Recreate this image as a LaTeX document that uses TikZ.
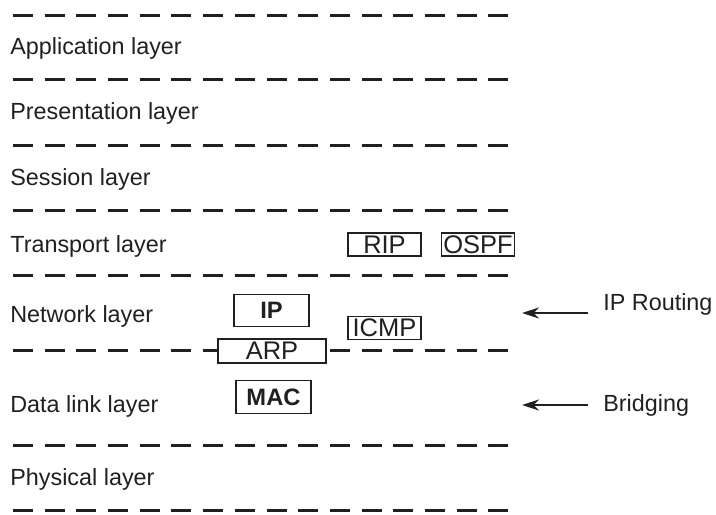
\documentclass[tikz,border=0pt]{standalone}
\usepackage{fontspec}
\setmainfont{Liberation Sans}
\usepackage{tikz}
\usetikzlibrary{arrows.meta}
\definecolor{inkgray}{HTML}{231F20}

\begin{document}
\begin{tikzpicture}[
    x=0.02cm, y=-0.02cm,
    layer/.style={anchor=west, inner sep=0pt, text=inkgray, font=\fontsize{13.3}{15}\selectfont},
    divider/.style={draw=inkgray, line width=0.06cm, dash pattern=on 0.4cm off 0.234cm},
    proto/.style={rectangle, draw=inkgray, line width=0.6pt, fill=white, text=inkgray, inner sep=0pt, minimum width=1.46cm, minimum height=0.46cm, font=\fontsize{14.5}{16}\selectfont},
    core/.style={proto, minimum width=1.5cm, minimum height=0.65cm, font=\fontsize{13.5}{15}\selectfont\bfseries},
    arrow/.style={draw=inkgray, -{Stealth[length=3.4mm, width=2.2mm, inset=1.1mm]}, line width=1.1pt}
]
\useasboundingbox (0,0) rectangle (716,514);

\foreach \y in {15,79,145,210,275,350,445,510}
    \draw[divider] (13,\y) -- (510,\y);

\node[layer] (app) at (10,48) {Application layer};
\node[layer] (pres) at (10,113) {Presentation layer};
\node[layer] (sess) at (10,179) {Session layer};
\node[layer] (trans) at (10,246) {Transport layer};
\node[layer] (net) at (10,316) {Network layer};
\node[layer] (link) at (10,406) {Data link layer};
\node[layer] (phys) at (10,479) {Physical layer};

\node[proto] (rip) at (384.5,244.5) {RIP};
\node[proto] (ospf) at (478,244.5) {OSPF};
\node[core] (ip) at (271.5,310.5) {IP};
\node[proto] (icmp) at (384.5,328) {ICMP};
\node[proto, minimum width=2.16cm, minimum height=0.48cm] (arp) at (272,351) {ARP};
\node[core] (mac) at (273.5,397) {MAC};

\node[layer] (routing) at (603,304) {IP Routing};
\node[layer] (bridging) at (603,405) {Bridging};

\coordinate (routetail) at (588,313);
\coordinate (routehead) at (522,313);
\coordinate (bridgetail) at (588,405);
\coordinate (bridgehead) at (522,405);

\draw[arrow] (routetail) -- (routehead);
\draw[arrow] (bridgetail) -- (bridgehead);
\end{tikzpicture}
\end{document}
